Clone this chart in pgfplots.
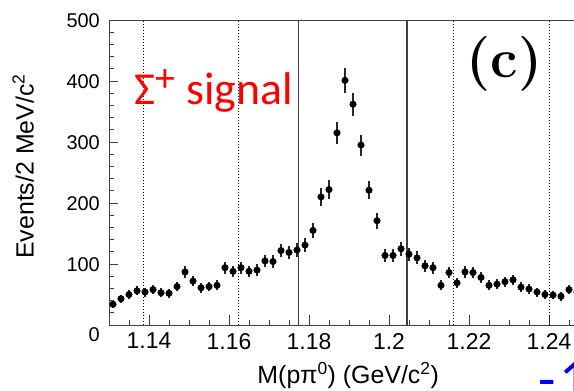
\documentclass[border=0pt]{standalone}
\usepackage{fontspec}
\usepackage{pgfplots}
\usepackage{pgfplotstable}
\pgfplotsset{compat=1.18}
\newfontfamily\helv{Liberation Sans}
\newfontfamily\carl{Carlito}

\pgfplotstableread{
x y e
1.131 34 5.8
1.133 43 6.6
1.135 50 7.1
1.137 56 7.5
1.139 54 7.3
1.141 58 7.6
1.143 53 7.3
1.145 52 7.2
1.147 63 7.9
1.149 87 9.3
1.151 72 8.5
1.153 61 7.8
1.155 63 7.9
1.157 65 8.1
1.159 94 9.7
1.161 88 9.4
1.163 94 9.7
1.165 88 9.4
1.167 90 9.5
1.169 105 10.2
1.171 104 10.2
1.173 122 11.0
1.175 119 10.9
1.177 123 11.1
1.179 131 11.4
1.181 155 12.4
1.183 210 14.5
1.185 222 14.9
1.187 315 17.7
1.189 401 20.0
1.191 362 19.0
1.193 295 17.2
1.195 221 14.9
1.197 171 13.1
1.199 114 10.7
1.201 114 10.7
1.203 125 11.2
1.205 116 10.8
1.207 110 10.5
1.209 97 9.8
1.211 94 9.7
1.213 65 8.1
1.215 86 9.3
1.217 69 8.3
1.219 87 9.3
1.221 86 9.3
1.223 78 8.8
1.225 65 8.1
1.227 67 8.2
1.229 71 8.4
1.231 74 8.6
1.233 62 7.9
1.235 59 7.7
1.237 54 7.3
1.239 50 7.1
1.241 49 7.0
1.243 47 6.9
1.245 58 7.6
1.247 54 7.3
}\datatable

\begin{document}
\begin{tikzpicture}
\useasboundingbox (0,0) rectangle (574bp,391bp);
\clip (0,0) rectangle (574bp,391bp);
\begin{axis}[
  at={(109bp,66bp)}, anchor=south west,
  scale only axis, width=520bp, height=305bp,
  xmin=1.13, xmax=1.26, ymin=0, ymax=500,
  axis line style={black!75, line width=1bp},
  tick style={black!75, line width=0.9bp},
  tick align=inside, xtick pos=bottom, ytick pos=left,
  major tick length=9.5bp, minor tick length=5bp,
  xtick={1.14,1.16,1.18,1.2,1.22,1.24,1.26},
  minor xtick={1.135,1.145,1.15,1.155,1.165,1.17,1.175,1.185,1.19,1.195,1.205,1.21,1.215,1.225,1.23,1.235,1.245,1.25,1.255},
  ytick={0,100,200,300,400,500},
  yticklabels={\raisebox{-9bp}{0},100,200,300,400,500},
  minor y tick num=4,
  /pgf/number format/assume math mode=true,
  xticklabel style={font=\helv\fontsize{23}{23}\selectfont, anchor=north, inner sep=0pt, yshift=-8bp},
  yticklabel style={font=\helv\fontsize{20}{20}\selectfont, anchor=base east, inner sep=0pt, xshift=-9bp, yshift=-7bp},
  xlabel={M(pπ\textsuperscript{0}) (GeV/c\textsuperscript{2})},
  ylabel={Events/2 MeV/c\textsuperscript{2}},
  every axis x label/.style={at={(axis description cs:0.46,-0.167)}, anchor=center, font=\helv\fontsize{25}{25}\selectfont},
  every axis y label/.style={at={(axis description cs:-0.165,0.52)}, rotate=90, anchor=center, font=\helv\fontsize{25}{25}\selectfont},
]
\addplot[black, line width=1.1bp, dash pattern=on 1.5bp off 1.5bp] coordinates {(1.1386,0) (1.1386,500)};
\addplot[black, line width=1.1bp, dash pattern=on 1.5bp off 1.5bp] coordinates {(1.1624,0) (1.1624,500)};
\addplot[black, line width=1.1bp, dash pattern=on 1.5bp off 1.5bp] coordinates {(1.2162,0) (1.2162,500)};
\addplot[black, line width=1.1bp, dash pattern=on 1.5bp off 1.5bp] coordinates {(1.2401,0) (1.2401,500)};
\addplot[black!75, line width=1.3bp] coordinates {(1.1773,0) (1.1773,500)};
\addplot[black!75, line width=1.3bp] coordinates {(1.2045,0) (1.2045,500)};
\addplot[black, only marks, mark=*, mark size=3.3bp,
  error bars/.cd, y dir=both, y explicit, error mark=none,
  error bar style={line width=1.3bp, black!85}]
  table[x=x, y=y, y error=e] {\datatable};
\node[anchor=base west, text=red, font=\carl\fontsize{46}{46}\selectfont, inner sep=0pt]
  at (axis cs:1.1362,360.7) {Σ\raisebox{0.3em}{\fontsize{40}{40}\selectfont+}\hspace{0.25em}signal};
\node[anchor=center, font=\fontsize{55}{55}\selectfont\bfseries, inner sep=0pt]
  at (axis cs:1.2289,428) {(c)};
\end{axis}
\node[anchor=base west, text=blue, font=\carl\fontsize{57}{57}\selectfont, inner sep=0pt] at (538bp,-7bp) {-};
\node[anchor=base west, text=blue, font=\carl\fontsize{57}{57}\selectfont, inner sep=0pt] at (559bp,-7bp) {1};
\end{tikzpicture}
\end{document}
